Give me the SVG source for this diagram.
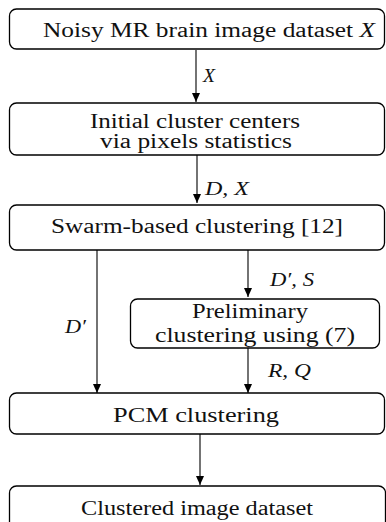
<svg xmlns="http://www.w3.org/2000/svg" width="386" height="522" viewBox="0 0 386 522">
<defs>
<marker id="ah" markerWidth="10" markerHeight="8" refX="9" refY="4" orient="auto" markerUnits="userSpaceOnUse">
<path d="M0,0 L9,4 L0,8 Z" fill="#000"/>
</marker>
<style>
.box{fill:#fff;stroke:#000;stroke-width:1.3}
text{font-family:'Liberation Serif','DejaVu Serif',serif}
.t{font-size:20px;fill:#111;text-anchor:middle}
.m{font-size:19px;font-style:italic;fill:#111}
.c{stroke:#000;stroke-width:1.1;fill:none;marker-end:url(#ah)}
</style>
</defs>
<g id="connectors" font-family="Liberation Serif, DejaVu Serif, serif">
<line class="c" x1="196" y1="50" x2="196" y2="102"/>
<line class="c" x1="197" y1="155" x2="197" y2="203"/>
<line class="c" x1="248" y1="250" x2="248" y2="297"/>
<line class="c" x1="97" y1="250" x2="97" y2="393"/>
<line class="c" x1="248" y1="348" x2="248" y2="393"/>
<line class="c" x1="200" y1="434" x2="200" y2="485"/>
<text class="m" x="203" y="82" textLength="12" lengthAdjust="spacingAndGlyphs">X</text>
<text class="m" x="205" y="195" textLength="44" lengthAdjust="spacingAndGlyphs">D, X</text>
<text class="m" x="270" y="286" textLength="44" lengthAdjust="spacingAndGlyphs">D′, S</text>
<text class="m" x="65" y="333" textLength="21" lengthAdjust="spacingAndGlyphs">D′</text>
<text class="m" x="268" y="377" textLength="43" lengthAdjust="spacingAndGlyphs">R, Q</text>
</g>
<g id="n1"><rect class="box" x="9.5" y="9" width="375" height="40" rx="7"/><text class="t" x="209" y="37" textLength="332" lengthAdjust="spacingAndGlyphs">Noisy MR brain image dataset <tspan font-style="italic">X</tspan></text></g>
<g id="n2"><rect class="box" x="9.5" y="103" width="375" height="52" rx="7"/><text class="t" x="195" y="128" textLength="210" lengthAdjust="spacingAndGlyphs">Initial cluster centers</text><text class="t" x="196" y="148" textLength="192" lengthAdjust="spacingAndGlyphs">via pixels statistics</text></g>
<g id="n3"><rect class="box" x="9.5" y="205" width="375" height="45" rx="7"/><text class="t" x="197" y="233" textLength="292" lengthAdjust="spacingAndGlyphs">Swarm-based clustering [12]</text></g>
<g id="n4"><rect class="box" x="130.5" y="299" width="249" height="49" rx="7"/><text class="t" x="250" y="318" textLength="116" lengthAdjust="spacingAndGlyphs">Preliminary</text><text class="t" x="255" y="342" textLength="200" lengthAdjust="spacingAndGlyphs">clustering using (7)</text></g>
<g id="n5"><rect class="box" x="9.5" y="393" width="375" height="41" rx="7"/><text class="t" x="196" y="422" textLength="166" lengthAdjust="spacingAndGlyphs">PCM clustering</text></g>
<g id="n6"><rect class="box" x="9.5" y="486" width="376" height="50" rx="7"/><text class="t" x="197" y="515" textLength="232" lengthAdjust="spacingAndGlyphs">Clustered image dataset</text></g>
</svg>
